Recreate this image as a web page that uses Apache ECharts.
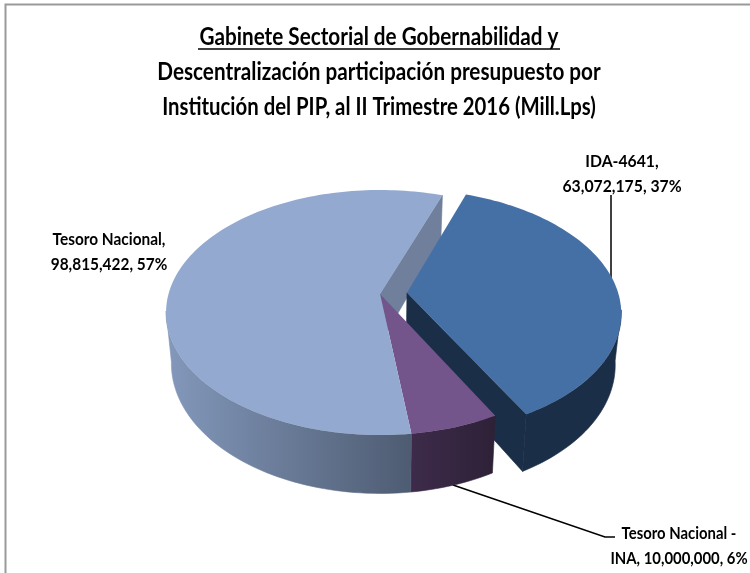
<!DOCTYPE html>
<html>
<head>
<meta charset="utf-8">
<style>
  html, body { margin: 0; padding: 0; background: #fff; }
  #chart { width: 750px; height: 573px; }
</style>
<script src="https://cdn.jsdelivr.net/npm/echarts@6/dist/echarts.min.js"></script>
</head>
<body>
<div id="chart"></div>
<script>
// datos
const names = ['IDA-4641', 'Tesoro Nacional - INA', 'Tesoro Nacional'];
const values = [63072175, 10000000, 98815422];
const percents = [37, 6, 57];
const titleLines = [
  'Gabinete Sectorial de Gobernabilidad y',
  'Descentralización participación presupuesto por',
  'Institución del PIP, al II Trimestre 2016 (Mill.Lps)'
];

const topColors = ['#4570a6', '#73548b', '#93a9cf'];
const cutColors = ['#1b2e47', '#2e2238', '#6f7f9c'];
const sideColors = [['#1b2e47', '#1b2e47'], ['#3e2b4b', '#2d2137'], ['#8398bb', '#4e5c72']];
const explode = [0.128, 0, 0];

// geometria de la proyeccion
const CX = 380, CY = 294, RX = 211.5, RY = 119.7, PERSP = 0.151;
const BOTTOM_DY = 50, BOTTOM_KX = 0.975, BOTTOM_KY = 1.06;
const START = -70.3;
const FONT = 'Lato, "Liberation Sans", sans-serif';

const total = values.reduce((a, b) => a + b, 0);
const rad = d => d * Math.PI / 180;

function project(px, py, bottom) {
  const w = 1 / (1 - PERSP * py);
  if (bottom) {
    return [CX + px * RX * w * BOTTOM_KX, CY + BOTTOM_DY + py * RY * w * BOTTOM_KY];
  }
  return [CX + px * RX * w, CY + py * RY * w];
}

function arcPoints(a0, a1, ox, oy, bottom) {
  const pts = [];
  const n = Math.max(4, Math.round(Math.abs(a1 - a0) / 1.5));
  for (let i = 0; i <= n; i++) {
    const a = rad(a0 + (a1 - a0) * i / n);
    pts.push(project(ox + Math.cos(a), oy + Math.sin(a), bottom));
  }
  return pts;
}

function renderSlice(params, api) {
  const i = params.dataIndex;
  let a0 = START;
  for (let k = 0; k < i; k++) a0 += values[k] / total * 360;
  const a1 = a0 + api.value(0) / total * 360;
  const mid = rad((a0 + a1) / 2);
  const ox = Math.cos(mid) * explode[i], oy = Math.sin(mid) * explode[i];

  const apexTop = project(ox, oy, false);
  const apexBot = project(ox, oy, true);
  const endTop = arcPoints(a0, a1, ox, oy, false);
  const endBot = arcPoints(a0, a1, ox, oy, true);
  const children = [];

  // el bloque desplazado se pinta entre la cara de corte clara y el resto
  const z = i === 0 ? 20 : 40;

  // borde exterior, solo la parte que mira al frente
  const front0 = Math.max(a0, 8), front1 = Math.min(a1, 172);
  if (front1 > front0) {
    const t = arcPoints(front0, front1, ox, oy, false);
    const b = arcPoints(front0, front1, ox, oy, true);
    const grad = new echarts.graphic.LinearGradient(0, 0, 1, 0, [
      { offset: 0, color: sideColors[i][0] },
      { offset: 1, color: sideColors[i][1] }
    ]);
    children.push({
      type: 'polygon',
      z2: z,
      shape: { points: t.concat(b.reverse()) },
      style: { fill: grad, stroke: grad, lineWidth: 0.6 }
    });
  }

  // caras de corte visibles
  if (i === 0 || i === 2) {
    const last = endTop[endTop.length - 1], lastB = endBot[endBot.length - 1];
    children.push({
      type: 'polygon',
      z2: i === 0 ? z + 1 : 10,
      shape: { points: [apexTop, last, lastB, apexBot] },
      style: { fill: cutColors[i], stroke: cutColors[i], lineWidth: 0.6 }
    });
  }

  children.push({
    type: 'polygon',
    z2: z + 2,
    shape: { points: [apexTop].concat(endTop) },
    style: { fill: topColors[i] }
  });
  return { type: 'group', children: children };
}

function labelText(i) {
  const head = names[i].includes(' - ') ? names[i].replace(' - ', ' -\n') + ', ' : names[i] + ',\n';
  return head + values[i].toLocaleString('en-US') + ', ' + percents[i] + '%';
}

function titleText(line, y, sx) {
  return {
    type: 'text', x: 379, y: y, scaleX: sx,
    style: { text: line, font: 'bold 24.5px ' + FONT, fill: '#000', textAlign: 'center', textVerticalAlign: 'middle' }
  };
}

function sliceLabel(i, x, y, sx) {
  return {
    type: 'text', x: x, y: y, scaleX: sx,
    style: { text: labelText(i), font: 'bold 17.5px ' + FONT, fill: '#000', lineHeight: 25, textAlign: 'center', textVerticalAlign: 'middle' }
  };
}

const chart = echarts.init(document.getElementById('chart'));
const leaderStyle = { stroke: '#000', lineWidth: 1.5, fill: 'none' };

chart.setOption({
  animation: false,
  series: [{
    type: 'custom',
    coordinateSystem: 'none',
    silent: true,
    data: values.map(v => [v]),
    renderItem: renderSlice
  }],
  graphic: [
    { type: 'polyline', shape: { points: [[5.5, 573], [5.5, 4.5], [750, 4.5]] }, style: { stroke: '#9a9a9a', lineWidth: 2, fill: 'none' } },
    titleText(titleLines[0], 37, 0.845),
    { type: 'line', shape: { x1: 198, y1: 49, x2: 560, y2: 49 }, style: { stroke: '#000', lineWidth: 1.5 } },
    titleText(titleLines[1], 72, 0.845),
    titleText(titleLines[2], 107, 0.83),

    sliceLabel(0, 622, 174, 0.9),
    sliceLabel(2, 109, 252, 0.88),
    sliceLabel(1, 679, 546, 0.85),

    { type: 'polyline', shape: { points: [[611, 195], [611, 283]] }, style: leaderStyle },
    { type: 'polyline', shape: { points: [[453, 485], [605, 537], [615, 537]] }, style: leaderStyle }
  ]
});
</script>
</body>
</html>
